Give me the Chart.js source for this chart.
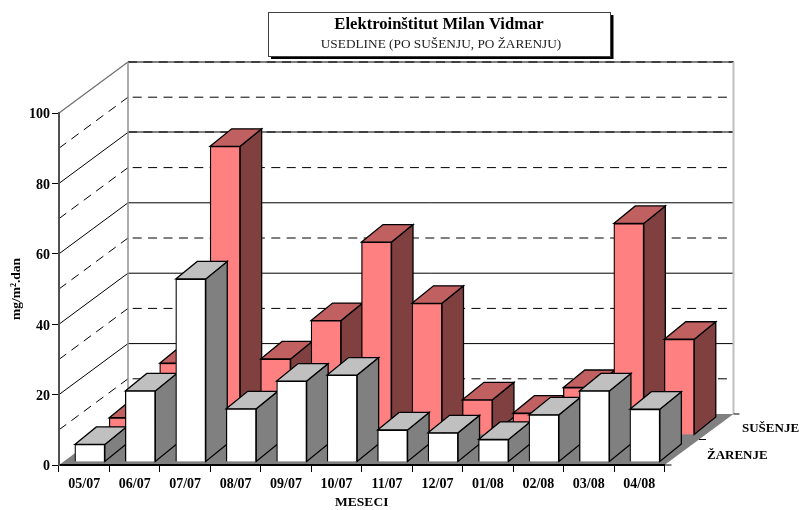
<!DOCTYPE html>
<html>
<head>
<meta charset="utf-8">
<title>Elektroinštitut Milan Vidmar</title>
<script src="https://cdn.jsdelivr.net/npm/chart.js@4"></script>
<style>
  html, body { margin: 0; padding: 0; background: #fff; }
  canvas { display: block; }
</style>
</head>
<body>
<canvas id="myChart" width="801" height="510"></canvas>
<script>
const months = ['05/07','06/07','07/07','08/07','09/07','10/07','11/07','12/07','01/08','02/08','03/08','04/08'];
const zarenje = [5, 20.2, 52, 15.1, 23, 24.7, 9.1, 8.3, 6.4, 13.4, 20.2, 15];
const susenje = [4.9, 20.4, 82, 21.6, 32.5, 54.8, 37.4, 10, 6.2, 13.5, 60.1, 27.2];
const solidLevels = [20, 40, 60, 80];
const dashedLevels = [10, 30, 50, 70, 90];
// these two came out as a grey band with dashes on top in the original
const bandLevels = [80, 100];

const serif = '"Liberation Serif"';
// how far the back wall sits from the front of the floor
const depthX = 69, depthY = -51;
// how far a bar runs backwards
const barDepthX = 21.5, barDepthY = -17.5;

// row offsets, index same as datasets
const rowOffset = [[5.6, -3], [40, -30]];
const sideColors = ['#808080', '#804040'];
const topColors = ['#c0c0c0', '#c06060'];

function line(ctx, x1, y1, x2, y2) {
  ctx.beginPath();
  ctx.moveTo(x1, y1);
  ctx.lineTo(x2, y2);
  ctx.stroke();
}

function poly(ctx, pts, fill) {
  ctx.beginPath();
  ctx.moveTo(pts[0][0], pts[0][1]);
  for (let i = 1; i < pts.length; i++) ctx.lineTo(pts[i][0], pts[i][1]);
  ctx.closePath();
  ctx.fillStyle = fill;
  ctx.fill();
  ctx.stroke();
}

const walls = {
  id: 'walls',
  beforeDraw(chart) {
    const ctx = chart.ctx;
    const y = chart.scales.y;
    const left = chart.chartArea.left, right = chart.chartArea.right;
    const bottom = y.getPixelForValue(0);
    const backL = left + depthX, backR = right + depthX;

    ctx.save();
    // floor
    ctx.fillStyle = '#808080';
    ctx.beginPath();
    ctx.moveTo(left, bottom);
    ctx.lineTo(right, bottom);
    ctx.lineTo(backR, bottom + depthY);
    ctx.lineTo(backL, bottom + depthY);
    ctx.closePath();
    ctx.fill();

    ctx.lineWidth = 1;
    ctx.strokeStyle = '#000';
    solidLevels.forEach(v => {
      const p = y.getPixelForValue(v);
      line(ctx, left, p, backL, p + depthY);
      line(ctx, backL, p + depthY, backR, p + depthY);
    });
    ctx.setLineDash([9, 6.4]);
    dashedLevels.forEach(v => {
      const p = y.getPixelForValue(v);
      ctx.lineDashOffset = 0;
      line(ctx, left, p, backL, p + depthY);
      ctx.lineDashOffset = -4.7;
      line(ctx, backL, p + depthY, backR, p + depthY);
    });
    ctx.lineDashOffset = 0;
    ctx.setLineDash([]);

    const top = y.getPixelForValue(100);
    ctx.strokeStyle = '#707070';
    ctx.lineWidth = 1.3;
    line(ctx, left, top, backL, top + depthY);

    bandLevels.forEach(v => {
      const p = Math.round(y.getPixelForValue(v) + depthY);
      ctx.strokeStyle = '#808080';
      ctx.lineWidth = 2;
      line(ctx, backL, p, backR, p);
      ctx.strokeStyle = '#404040';
      ctx.setLineDash([9, 6.4]);
      line(ctx, backL, p, backR, p);
      ctx.setLineDash([]);
    });

    // edges of the walls
    ctx.lineWidth = 1.5;
    ctx.strokeStyle = '#909090';
    line(ctx, backL, top + depthY, backL, bottom + depthY);
    ctx.strokeStyle = '#c0c0c0';
    ctx.lineWidth = 2;
    line(ctx, backR, top + depthY, backR, bottom + depthY);

    // ticks along the floor's right edge
    ctx.strokeStyle = '#000';
    ctx.lineWidth = 1;
    line(ctx, right, bottom, right + 7, bottom);
    line(ctx, right + depthX / 2, bottom + depthY / 2, right + depthX / 2 + 7, bottom + depthY / 2);
    line(ctx, backR, bottom + depthY, backR + 6, bottom + depthY);
    ctx.restore();
  },
  beforeDatasetDraw(chart, args) {
    const ctx = chart.ctx;
    const off = rowOffset[args.index];
    ctx.save();
    ctx.translate(off[0], off[1]);
    ctx.lineWidth = 1.3;
    ctx.strokeStyle = '#000';
    args.meta.data.forEach(bar => {
      const b = bar.getProps(['x', 'y', 'base', 'width'], true);
      const l = b.x - b.width / 2, r = b.x + b.width / 2;
      poly(ctx, [[r, b.y], [r + barDepthX, b.y + barDepthY], [r + barDepthX, b.base + barDepthY], [r, b.base]], sideColors[args.index]);
      poly(ctx, [[l, b.y], [l + barDepthX, b.y + barDepthY], [r + barDepthX, b.y + barDepthY], [r, b.y]], topColors[args.index]);
    });
  },
  afterDatasetDraw(chart) {
    chart.ctx.restore();
  },
  afterDraw(chart) {
    const ctx = chart.ctx;
    ctx.save();
    // title box
    ctx.fillStyle = '#000';
    ctx.fillRect(271, 15, 342.5, 44);
    ctx.fillStyle = '#fff';
    ctx.fillRect(268.5, 12.5, 342, 44);
    ctx.strokeStyle = '#404040';
    ctx.lineWidth = 1;
    ctx.strokeRect(268.5, 12.5, 342, 44);

    ctx.fillStyle = '#000';
    ctx.textAlign = 'center';
    ctx.textBaseline = 'alphabetic';
    ctx.font = 'bold 16.6px ' + serif;
    ctx.fillText('Elektroinštitut Milan Vidmar', 439, 29);
    ctx.fillStyle = '#222';
    ctx.font = '13.3px ' + serif;
    ctx.fillText('USEDLINE (PO SUŠENJU, PO ŽARENJU)', 441, 48);

    // row names
    ctx.fillStyle = '#000';
    ctx.textAlign = 'left';
    ctx.font = 'bold 13px ' + serif;
    ctx.fillText(chart.data.datasets[1].label, 742, 432);
    ctx.fillText(chart.data.datasets[0].label, 707, 459);
    ctx.restore();
  }
};

const tickFont = { family: serif, size: 14, weight: 'bold' };

new Chart(document.getElementById('myChart').getContext('2d'), {
  type: 'bar',
  plugins: [walls],
  data: {
    labels: months,
    datasets: [
      { label: 'ŽARENJE', data: zarenje, backgroundColor: '#ffffff', borderColor: '#000', borderWidth: 1.3, clip: false },
      { label: 'SUŠENJE', data: susenje, backgroundColor: '#ff8080', borderColor: '#000', borderWidth: 1.3, clip: false }
    ]
  },
  options: {
    responsive: false,
    animation: false,
    grouped: false,
    barThickness: 30,
    layout: { padding: { top: 113, right: 136.5, left: 0, bottom: 0 } },
    plugins: { legend: { display: false }, tooltip: { enabled: false } },
    scales: {
      x: {
        afterFit(scale) { scale.height = 45; },
        grid: { drawOnChartArea: false, color: '#000', tickLength: 7 },
        border: { color: '#000', width: 2 },
        ticks: { color: '#000', font: tickFont, padding: 4, maxRotation: 0 },
        title: { display: true, text: 'MESECI', color: '#000', font: { family: serif, size: 13.5, weight: 'bold' }, padding: { top: 0, bottom: -1 } }
      },
      y: {
        min: 0,
        max: 100,
        afterFit(scale) { scale.width = 59; },
        grid: { drawOnChartArea: false, color: '#000', tickLength: 7 },
        border: { color: '#505050', width: 2 },
        // empty first line pushes the number down a little, labels sit lower in the original
        ticks: { stepSize: 20, color: '#000', font: { family: serif, size: 14, weight: 'bold', lineHeight: 0.25 }, padding: 2, callback: v => ['', String(v)] },
        title: { display: true, text: 'mg/m².dan', color: '#000', font: { family: serif, size: 13.5, weight: 'bold' }, padding: { top: 8, bottom: 0 } }
      }
    }
  }
});
</script>
</body>
</html>
